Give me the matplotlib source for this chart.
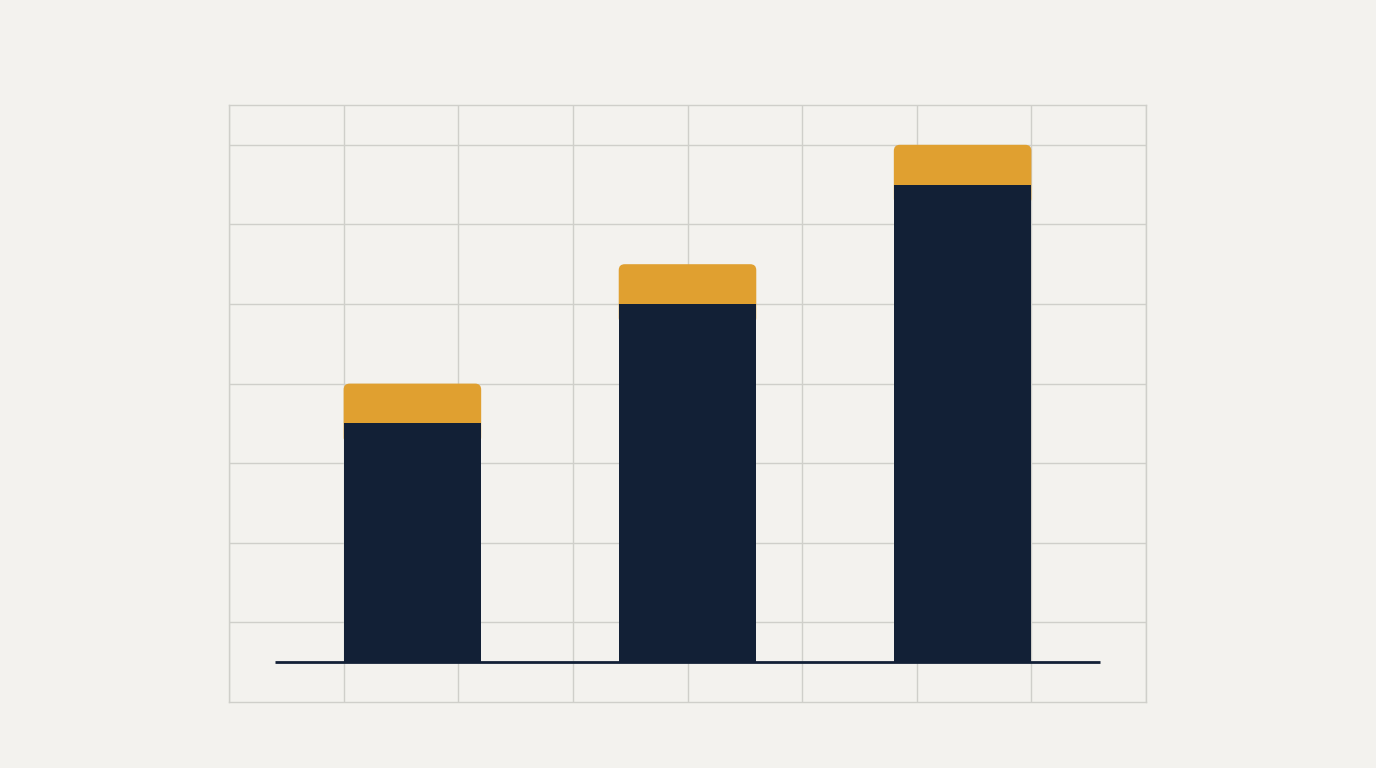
import matplotlib
matplotlib.use("Agg")
import matplotlib.pyplot as plt
from matplotlib.patches import FancyBboxPatch

# Data
categories = ["A", "B", "C"]
base_values = [6, 9, 12]
top_values = [1, 1, 1]
x_positions = [1.6, 4.0, 6.4]

BG = "#f3f2ee"
NAVY = "#122036"
ORANGE = "#e0a030"
GRID = "#cfcfca"

fig = plt.figure(figsize=(13.76, 7.68), dpi=100, facecolor=BG)
ax = fig.add_axes([229/1376, 66/768, 917/1376, 597/768])
ax.set_facecolor(BG)
ax.set_xlim(0, 8)
ax.set_ylim(-1, 14)

# grid
ax.set_xticks(range(0, 9))
ax.set_yticks([1, 3, 5, 7, 9, 11, 13])
ax.grid(True, color=GRID, linewidth=1.0, zorder=0)
ax.tick_params(length=0, labelbottom=False, labelleft=False)
for s in ax.spines.values():
    s.set_color(GRID)
    s.set_linewidth(1.0)

width = 1.2
ax.bar(x_positions, base_values, width=width, color=NAVY, zorder=3, linewidth=0)

# rounded orange tops
x_px_per_unit = 917 / 8
y_px_per_unit = 597 / 15
r_px = 6
aspect = x_px_per_unit / y_px_per_unit
for x, b, t in zip(x_positions, base_values, top_values):
    p = FancyBboxPatch((x - width / 2, b - 0.5), width, t + 0.5,
                       boxstyle=f"round,pad=0,rounding_size={r_px / x_px_per_unit}",
                       mutation_aspect=aspect, facecolor=ORANGE, edgecolor="none", zorder=2)
    ax.add_patch(p)

# baseline
ax.plot([0.4, 7.6], [0, 0], color=NAVY, linewidth=2.0, zorder=4, solid_capstyle="butt")

fig.savefig("out.png", dpi=100, facecolor=BG)
